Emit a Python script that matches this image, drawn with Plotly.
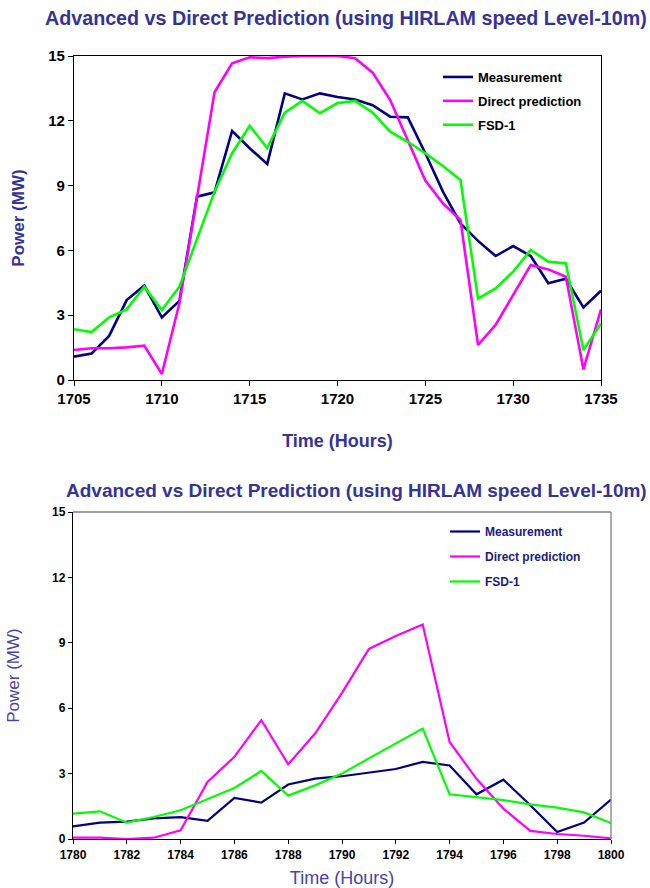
import plotly.graph_objects as go

# ---- data: top chart ----
hours_top = list(range(1705, 1736))
meas_top = [1.08, 1.23, 2.04, 3.70, 4.37, 2.90, 3.66, 8.49, 8.69, 11.53, 10.73, 10.00, 13.27, 12.99, 13.27, 13.10,
            12.99, 12.72, 12.19, 12.16, 10.50, 8.72, 7.25, 6.44, 5.74, 6.20, 5.74, 4.48, 4.69, 3.36, 4.14]
direct_top = [1.39, 1.47, 1.47, 1.51, 1.59, 0.28, 3.55, 8.40, 13.32, 14.66, 14.94, 14.90, 14.97, 15.0, 15.0, 15.0,
              14.90, 14.23, 12.96, 11.10, 9.23, 8.18, 7.40, 1.62, 2.55, 3.94, 5.32, 5.12, 4.78, 0.49, 3.27]
fsd_top = [2.35, 2.22, 2.90, 3.27, 4.32, 3.24, 4.32, 6.56, 8.72, 10.50, 11.77, 10.74, 12.38, 12.92, 12.35, 12.82,
           12.92, 12.38, 11.50, 11.03, 10.50, 9.91, 9.26, 3.77, 4.24, 5.02, 6.02, 5.48, 5.40, 1.39, 2.62]

# ---- data: bottom chart ----
hours_bot = list(range(1780, 1801))
meas_bot = [0.58, 0.75, 0.80, 0.95, 1.00, 0.83, 1.88, 1.67, 2.50, 2.77, 2.88, 3.03, 3.21, 3.54, 3.37, 2.05,
            2.72, 1.55, 0.32, 0.75, 1.81]
direct_bot = [0.06, 0.06, 0.00, 0.06, 0.40, 2.62, 3.77, 5.45, 3.43, 4.84, 6.70, 8.72, 9.31, 9.84, 4.45, 2.76,
              1.39, 0.37, 0.23, 0.15, 0.03]
fsd_bot = [1.16, 1.27, 0.75, 1.01, 1.32, 1.82, 2.34, 3.12, 1.99, 2.46, 3.00, 3.70, 4.38, 5.07, 2.05, 1.93,
           1.78, 1.59, 1.44, 1.22, 0.73]

series_names = ["Measurement", "Direct prediction", "FSD-1"]
colors = ["#000080", "#FF00FF", "#00FF00"]
title_text = "Advanced vs Direct Prediction (using HIRLAM speed Level-10m)"
y_ticks = [0, 3, 6, 9, 12, 15]

W, H = 650, 888
def px_x(a, b):
    return [a / W, b / W]
def px_y(top, bottom):
    return [1 - bottom / H, 1 - top / H]

fig = go.Figure()

for i, (name, vals) in enumerate(zip(series_names, [meas_top, direct_top, fsd_top])):
    fig.add_trace(go.Scatter(x=hours_top, y=vals, mode="lines", name=name,
                             line=dict(color=colors[i], width=2.6),
                             xaxis="x", yaxis="y", legend="legend", legendgroup=f"t{i}"))
for i, (name, vals) in enumerate(zip(series_names, [meas_bot, direct_bot, fsd_bot])):
    fig.add_trace(go.Scatter(x=hours_bot, y=vals, mode="lines", name=name,
                             line=dict(color=colors[i], width=2.2),
                             xaxis="x2", yaxis="y2", legend="legend2", legendgroup=f"b{i}"))

title_col = "#333399"

fig.update_layout(
    width=W, height=H,
    margin=dict(l=0, r=0, t=0, b=0),
    paper_bgcolor="white", plot_bgcolor="white",
    font=dict(family="Liberation Sans, Arial, sans-serif", color="black"),
    xaxis=dict(domain=px_x(74, 601), anchor="y", range=[1705, 1735], automargin=False,
               tickvals=list(range(1705, 1736, 5)), ticks="outside", ticklen=5, tickwidth=1.3,
               tickcolor="black", showline=True, linecolor="black", linewidth=1.3, mirror=True,
               showgrid=False, zeroline=False,
               tickfont=dict(size=15, color="black", weight="bold"),
               title=dict(text="Time (Hours)", standoff=28,
                          font=dict(size=18, color=title_col, weight="bold"))),
    yaxis=dict(domain=px_y(56, 380), anchor="x", range=[0, 15], tickvals=y_ticks, automargin=False,
               ticks="outside", ticklen=5, tickwidth=1.3, tickcolor="black",
               showline=True, linecolor="black", linewidth=1.3, mirror=True,
               showgrid=False, zeroline=False,
               tickfont=dict(size=15, color="black", weight="bold"),
               title=dict(text="Power (MW)", standoff=19,
                          font=dict(size=17, color=title_col, weight="bold"))),
    xaxis2=dict(domain=px_x(73, 611), anchor="y2", range=[1780, 1800], automargin=False,
                tickvals=list(range(1780, 1801, 2)), ticks="outside", ticklen=4, tickwidth=1,
                tickcolor="black", showline=True, linecolor="black", linewidth=1.3,
                showgrid=False, zeroline=False,
                tickfont=dict(size=12, color="black", weight="bold"),
                title=dict(text="Time (Hours)", standoff=10,
                           font=dict(size=18, color="#4444aa"))),
    yaxis2=dict(domain=px_y(512, 839), anchor="x2", range=[0, 15], tickvals=y_ticks, automargin=False,
                ticks="outside", ticklen=4, tickwidth=1, tickcolor="black",
                showline=True, linecolor="black", linewidth=1.3,
                showgrid=False, zeroline=False,
                tickfont=dict(size=12, color="black", weight="bold"),
                title=dict(text="Power (MW)", standoff=28,
                           font=dict(size=17, color="#4444aa"))),
    legend=dict(x=438 / W, y=1 - 62 / H, xanchor="left", yanchor="top",
                bgcolor="rgba(0,0,0,0)", itemwidth=30, tracegroupgap=4,
                font=dict(size=13, color="black", weight="bold")),
    legend2=dict(x=445 / W, y=1 - 517 / H, xanchor="left", yanchor="top",
                 bgcolor="rgba(0,0,0,0)", itemwidth=30, tracegroupgap=6,
                 font=dict(size=12, color="#1a1a80", weight="bold")),
    showlegend=True,
    annotations=[
        dict(text=title_text, x=346 / W, y=1 - 18 / H, xref="paper", yref="paper",
             xanchor="center", yanchor="middle", showarrow=False,
             font=dict(size=19.7, color=title_col, weight="bold")),
        dict(text=title_text, x=356 / W, y=1 - 491 / H, xref="paper", yref="paper",
             xanchor="center", yanchor="middle", showarrow=False,
             font=dict(size=19, color=title_col, weight="bold")),
    ],
    shapes=[
        dict(type="line", xref="paper", yref="paper", x0=73 / W, x1=611 / W,
             y0=1 - 512 / H, y1=1 - 512 / H, line=dict(color="#808080", width=1.3)),
        dict(type="line", xref="paper", yref="paper", x0=611 / W, x1=611 / W,
             y0=1 - 512 / H, y1=1 - 839 / H, line=dict(color="#808080", width=1.3)),
    ],
)

fig.write_html("out.html")
